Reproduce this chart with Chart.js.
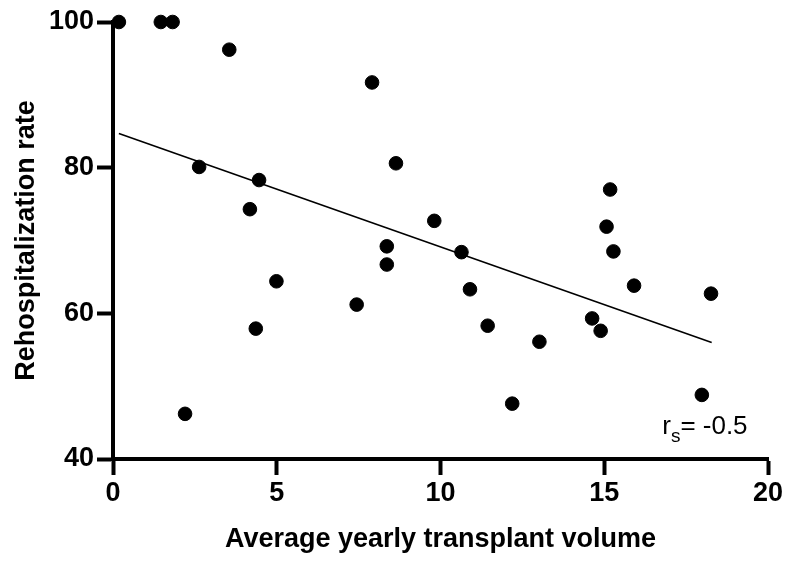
<!DOCTYPE html>
<html>
<head>
<meta charset="utf-8">
<script src="https://cdn.jsdelivr.net/npm/chart.js@4/dist/chart.umd.min.js"></script>
<style>
html,body{margin:0;padding:0;background:#fff;}
#wrap{width:788px;height:561px;}
</style>
</head>
<body>
<div id="wrap"><canvas id="c" width="788" height="561"></canvas></div>
<script>
// Data
const volumeX = [0.18, 1.46, 1.82, 3.55, 7.91, 2.63, 4.46, 4.18, 8.64, 8.36, 8.36, 9.81, 10.64, 4.99, 4.36, 2.20, 7.44, 10.90, 11.44, 13.02, 12.19, 14.63, 14.89, 15.18, 15.07, 15.28, 15.91, 18.26, 17.98];
const rateY   = [100, 100, 100, 96.2, 91.7, 80.1, 78.3, 74.3, 80.6, 69.2, 66.7, 72.7, 68.4, 64.4, 57.9, 46.2, 61.2, 63.3, 58.3, 56.1, 47.6, 59.3, 57.6, 77.0, 71.9, 68.5, 63.8, 62.7, 48.8];
const fitX = [0.18, 18.28];
const fitY = [84.7, 56.0];
const xTicks = [0, 5, 10, 15, 20];
const yTicks = [40, 60, 80, 100];
const xTitle = 'Average yearly transplant volume';
const yTitle = 'Rehospitalization rate';
const annotationText = { main: 'r', sub: 's', rest: '= -0.5' };

const points = volumeX.map((x, i) => ({ x: x, y: rateY[i] }));
const fitLine = fitX.map((x, i) => ({ x: x, y: fitY[i] }));

const FONT = '"Liberation Sans", Arial, Helvetica, sans-serif';

const annotationPlugin = {
  id: 'rsLabel',
  afterDatasetsDraw(chart) {
    const ctx = chart.ctx;
    const xs = chart.scales.x, ys = chart.scales.y;
    let px = xs.getPixelForValue(16.77);
    const py = ys.getPixelForValue(43.4);
    ctx.save();
    ctx.fillStyle = '#000';
    ctx.textBaseline = 'alphabetic';
    ctx.textAlign = 'left';
    ctx.font = '26px ' + FONT;
    ctx.fillText(annotationText.main, px, py);
    px += ctx.measureText(annotationText.main).width;
    ctx.font = '19px ' + FONT;
    ctx.fillText(annotationText.sub, px, py + 8);
    px += ctx.measureText(annotationText.sub).width;
    ctx.font = '26px ' + FONT;
    ctx.fillText(annotationText.rest, px, py);
    ctx.restore();
  }
};

new Chart(document.getElementById('c'), {
  type: 'scatter',
  data: {
    datasets: [
      {
        label: 'data',
        data: points,
        backgroundColor: '#000',
        borderColor: '#000',
        pointRadius: 6.8,
        pointHoverRadius: 6.8,
        clip: false,
        order: 1
      },
      {
        label: 'fit',
        type: 'line',
        data: fitLine,
        borderColor: '#000',
        borderWidth: 1.6,
        pointRadius: 0,
        fill: false,
        clip: false,
        order: 2
      }
    ]
  },
  options: {
    responsive: false,
    animation: false,
    devicePixelRatio: 1,
    layout: { padding: { top: 22, right: 20, left: 0, bottom: 0 } },
    plugins: { legend: { display: false }, tooltip: { enabled: false } },
    scales: {
      x: {
        type: 'linear',
        min: 0, max: 20,
        afterBuildTicks(scale) { scale.ticks = xTicks.map(v => ({ value: v })); },
        afterFit(scale) { scale.height = 102; },
        border: { display: true, color: '#000', width: 4 },
        grid: { drawOnChartArea: false, drawTicks: true, tickLength: 16, tickWidth: 4, tickColor: '#000' },
        ticks: { color: '#000', font: { family: FONT, size: 27, weight: 'bold' }, padding: 2, maxRotation: 0 },
        title: { display: true, text: xTitle, color: '#000', font: { family: FONT, size: 27, weight: 'bold' }, padding: { top: 0, bottom: 5 } }
      },
      y: {
        type: 'linear',
        min: 40, max: 100,
        afterBuildTicks(scale) { scale.ticks = yTicks.map(v => ({ value: v })); },
        afterFit(scale) { scale.width = 113; },
        border: { display: true, color: '#000', width: 4 },
        grid: { drawOnChartArea: false, drawTicks: true, tickLength: 16, tickWidth: 4, tickColor: '#000' },
        ticks: { color: '#000', font: { family: FONT, size: 27, weight: 'bold' }, padding: 3 },
        title: { display: true, text: yTitle, color: '#000', font: { family: FONT, size: 27, weight: 'bold' }, padding: { top: 10, bottom: 0 } }
      }
    }
  },
  plugins: [annotationPlugin]
});
</script>
</body>
</html>
